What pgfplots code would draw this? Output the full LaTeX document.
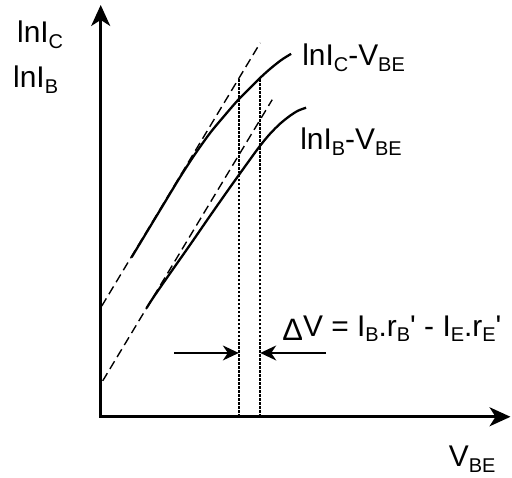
\documentclass[border=0pt]{standalone}
\usepackage{fontspec}
\setmainfont{Liberation Sans}
\usepackage{pgfplots}
\pgfplotsset{compat=1.18}
\usetikzlibrary{arrows.meta}

% subscripts set as lowered smaller text
\newcommand\sub[1]{\raisebox{-6pt}{\fontsize{20}{20}\selectfont #1}}
\newcommand\dlt{\raisebox{-4pt}{\fontsize{31}{31}\selectfont\symbol{"0394}}}

\begin{document}
\begin{tikzpicture}[every node/.style={font=\fontsize{30}{36}\selectfont, inner sep=0pt}]
\begin{axis}[
  x=1pt, y=1pt,
  xmin=0, xmax=411, ymin=0, ymax=413,
  axis lines=left,
  xtick=\empty, ytick=\empty,
  clip=false,
  axis line style={line width=3pt, line cap=rect},
  x axis line style={-{Stealth[length=21pt,width=19pt,inset=6pt]}},
  y axis line style={-{Stealth[length=21pt,width=19pt,inset=6pt]}},
]
% ideal exponential asymptotes
\addplot[black, line width=1.4pt, dash pattern=on 9pt off 5pt] coordinates {(1,111) (160,375)};
\addplot[black, line width=1.4pt, dash pattern=on 9pt off 5pt] coordinates {(2,36) (172,318)};

% measured ln IC - VBE
\addplot[black, line width=2.3pt, smooth] coordinates {
  (31,160) (60,208) (80,241) (95,264) (110,285) (125,303) (138,318)
  (150,330) (160,340) (170,349) (180,357) (186,361) (191,364)};
% measured ln IB - VBE
\addplot[black, line width=2.3pt, smooth] coordinates {
  (46,109) (53,120) (70,144.5) (90,173) (110,202) (130,230.5) (149,257)
  (160,272) (170,284) (180,294) (190,302) (198,307) (206,310)};

% voltage offset markers
\addplot[black, line width=1.6pt, dash pattern=on 2.5pt off 1.5pt] coordinates {(138.5,0) (138.5,340)};
\addplot[black, line width=1.6pt, dash pattern=on 2.5pt off 1.5pt] coordinates {(160,0) (160,340)};
\addplot[black, line width=1.4pt, -{Stealth[length=16pt,width=15pt,inset=5pt]}] coordinates {(74,64) (138.5,64)};
\addplot[black, line width=1.4pt, -{Stealth[length=16pt,width=15pt,inset=5pt]}] coordinates {(226,64) (160,64)};

% labels
\node[anchor=base west] at (axis cs:-84,375) {lnI\sub{C}};
\node[anchor=base west] at (axis cs:-88,330) {lnI\sub{B}};
\node[anchor=base west] at (axis cs:202,352) {lnI\sub{C}-V\sub{BE}};
\node[anchor=base west] at (axis cs:200,268) {lnI\sub{B}-V\sub{BE}};
\node[anchor=base west] at (axis cs:182,81) {\dlt V = I\sub{B}.r\sub{B}\textquotesingle{} - I\sub{E}.r\sub{E}\textquotesingle};
\node[anchor=base west] at (axis cs:349,-50) {V\sub{BE}};

\path (axis cs:-101,-61) rectangle (axis cs:411,418);
\end{axis}
\end{tikzpicture}
\end{document}
